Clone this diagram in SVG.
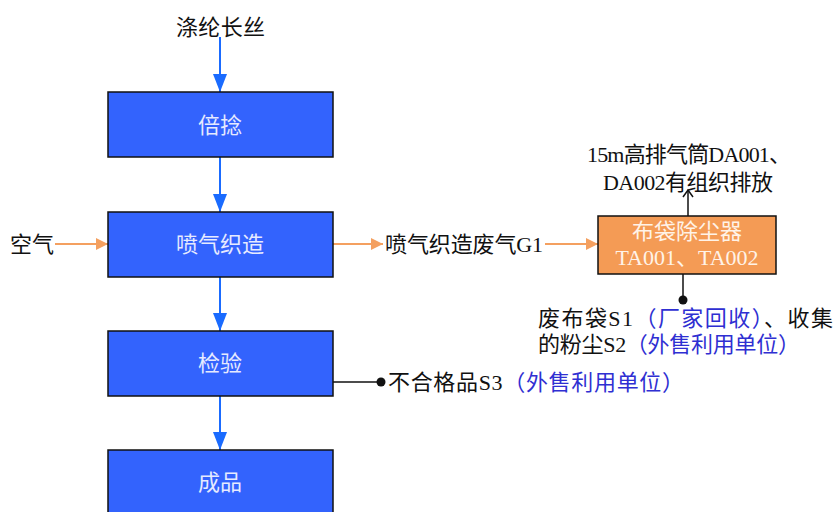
<svg xmlns="http://www.w3.org/2000/svg" width="835" height="512" viewBox="0 0 835 512">
<defs>
<style>
text{font-family:"Liberation Serif","Noto Sans CJK SC",serif;font-size:22px;fill:#111;}
.bt{fill:#e6eaff;text-anchor:middle;}
.ot{fill:#fff3e8;text-anchor:middle;}
.bl{fill:#2f2fd2;}
.box{fill:#3363fd;stroke:#111;stroke-width:1.5;}
.obox{fill:#f49b55;stroke:#111;stroke-width:1.5;}
.blue{stroke:#1a6bff;stroke-width:2;fill:none;}
.or{stroke:#f4a060;stroke-width:2;fill:none;}
.blk{stroke:#111;stroke-width:1.5;fill:none;}
</style>
<marker id="ab" markerUnits="userSpaceOnUse" markerWidth="18" markerHeight="14" refX="18" refY="7" orient="auto" viewBox="0 0 18 14"><path d="M0,0 L18,7 L0,14 Z" fill="#1a6bff"/></marker>
<marker id="ao" markerUnits="userSpaceOnUse" markerWidth="12" markerHeight="12" refX="12" refY="6" orient="auto" viewBox="0 0 12 12"><path d="M0,0 L12,6 L0,12 Z" fill="#f4a060"/></marker>
<marker id="ak" markerUnits="userSpaceOnUse" markerWidth="12" markerHeight="12" refX="8" refY="6" orient="auto" viewBox="0 0 12 12"><path d="M1,1 L8,6 L1,11" fill="none" stroke="#111" stroke-width="1.5"/></marker>
</defs>
<g id="connectors">
<line class="blue" x1="220" y1="37" x2="220" y2="92" marker-end="url(#ab)"/>
<line class="blue" x1="220" y1="157" x2="220" y2="212" marker-end="url(#ab)"/>
<line class="blue" x1="220" y1="277" x2="220" y2="331" marker-end="url(#ab)"/>
<line class="blue" x1="220" y1="396" x2="220" y2="450" marker-end="url(#ab)"/>
<line class="or" x1="55" y1="244" x2="108" y2="244" marker-end="url(#ao)"/>
<line class="or" x1="333" y1="244" x2="383" y2="244" marker-end="url(#ao)"/>
<line class="or" x1="545" y1="244" x2="598" y2="244" marker-end="url(#ao)"/>
<line class="blk" x1="688" y1="216" x2="688" y2="190" marker-end="url(#ak)"/>
<line class="blk" x1="683" y1="274" x2="683" y2="300"/>
<circle cx="683" cy="300" r="4.5" fill="#111"/>
<line class="blk" x1="333" y1="382" x2="381" y2="382"/>
<circle cx="381" cy="382" r="4.5" fill="#111"/>
</g>
<g id="n-input"><text x="176" y="35" textLength="89" lengthAdjust="spacing">涤纶长丝</text></g>
<g id="n-air"><text x="10" y="252">空气</text></g>
<g id="n-beinian"><rect class="box" x="108" y="92" width="225" height="65"/><text class="bt" x="220" y="133">倍捻</text></g>
<g id="n-weave"><rect class="box" x="108" y="212" width="225" height="65"/><text class="bt" x="220" y="252">喷气织造</text></g>
<g id="n-check"><rect class="box" x="108" y="331" width="225" height="65"/><text class="bt" x="220" y="371">检验</text></g>
<g id="n-product"><rect class="box" x="108" y="450" width="225" height="70"/><text class="bt" x="220" y="490">成品</text></g>
<g id="n-gas"><text x="385" y="252" textLength="158" lengthAdjust="spacing">喷气织造废气G1</text></g>
<g id="n-filter"><rect class="obox" x="598" y="216" width="178" height="58"/><text class="ot" x="687" y="239">布袋除尘器</text><text class="ot" x="687" y="265">TA001、TA002</text></g>
<g id="n-stack"><text x="587" y="162" textLength="204" lengthAdjust="spacing">15m高排气筒DA001、</text><text x="603" y="190" textLength="170" lengthAdjust="spacing">DA002有组织排放</text></g>
<g id="n-s1s2"><text x="538" y="326" textLength="295" lengthAdjust="spacing">废布袋S1<tspan class="bl">（厂家回收）</tspan>、收集</text><text x="538" y="352" textLength="262" lengthAdjust="spacing">的粉尘S2<tspan class="bl">（外售利用单位）</tspan></text></g>
<g id="n-s3"><text x="388" y="390" textLength="296" lengthAdjust="spacing">不合格品S3<tspan class="bl">（外售利用单位）</tspan></text></g>
</svg>
